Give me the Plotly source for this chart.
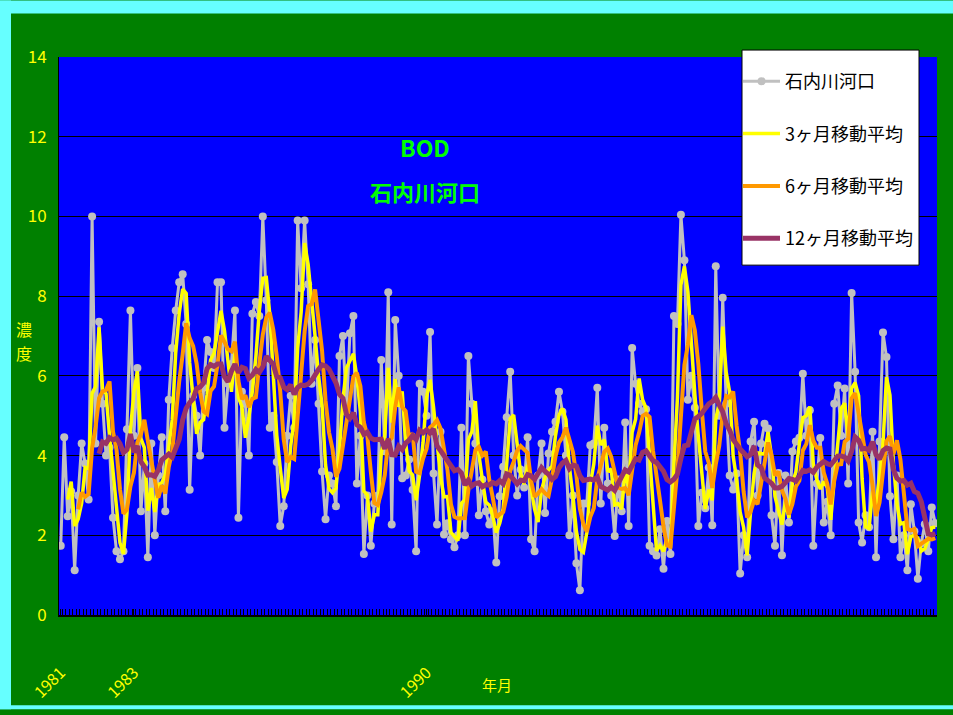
import pandas as pd
import plotly.graph_objects as go

# Monthly BOD (mg/L) at the Ishiuchi River mouth, April 1981 - March 2002
bod = [
    1.74, 4.46, 2.48, 3.1, 1.12, 3.0, 4.3, 3.8, 2.9, 10.0,
    4.3, 7.36, 5.3, 4.0, 4.2, 2.44, 1.6, 1.4, 1.6, 4.66,
    7.64, 4.5, 6.2, 2.6, 3.8, 1.45, 4.3, 2.0, 3.5, 4.46,
    2.6, 5.4, 6.7, 7.64, 8.35, 8.55, 7.3, 3.14, 5.5, 5.0,
    4.0, 5.7, 6.9, 6.6, 6.2, 8.35, 8.35, 4.7, 5.8, 6.3,
    7.64, 2.44, 5.6, 5.3, 4.0, 7.56, 7.85, 7.5, 10.0, 7.9,
    4.7, 5.0, 3.84, 2.23, 2.73, 4.5, 5.5, 4.7, 9.9, 8.2,
    9.9, 8.3, 5.8, 6.9, 5.3, 3.6, 2.4, 3.5, 3.3, 2.73,
    6.5, 7.0, 5.1, 7.07, 7.5, 3.3, 4.5, 1.53, 3.0, 1.74,
    2.8, 3.0, 6.4, 4.1, 8.1, 2.27, 7.4, 6.0, 3.43, 3.5,
    3.9, 3.14, 1.6, 5.8, 5.6, 5.0, 7.1, 3.55, 2.27, 4.6,
    2.02, 2.3, 1.9, 1.7, 2.0, 4.7, 2.0, 6.5, 5.3, 4.3,
    2.5, 3.4, 2.6, 2.27, 2.6, 1.32, 2.98, 3.72, 4.96, 6.1,
    4.0, 3.0, 3.65, 3.2, 4.46, 1.9, 1.6, 3.5, 4.3, 2.56,
    4.05, 4.6, 4.85, 5.6, 5.1, 4.0, 2.0, 3.0, 1.3, 0.62,
    2.8, 2.8, 4.26, 4.3, 5.7, 2.8, 4.7, 3.3, 3.0, 1.98,
    3.4, 2.6, 4.83, 2.23, 6.7, 5.8, 5.3, 5.1, 5.16, 1.74,
    1.6, 1.49, 2.15, 1.16, 2.36, 1.53, 7.5, 7.3, 10.04, 8.9,
    5.4, 6.0, 5.2, 2.23, 3.07, 2.68, 3.7, 2.25, 8.75, 5.0,
    7.96, 5.3, 3.5, 3.15, 3.55, 1.04, 2.0, 1.45, 4.35, 4.85,
    3.0, 4.3, 4.8, 4.68, 2.5, 1.74, 3.56, 1.5, 3.5, 2.32,
    4.1, 4.35, 4.45, 6.05, 4.5, 5.14, 1.74, 3.3, 4.44, 2.32,
    2.84, 2.0, 5.3, 5.76, 4.5, 5.68, 3.3, 8.08, 6.1, 2.32,
    1.82, 2.5, 2.2, 4.6, 1.45, 4.35, 7.09, 6.47, 2.98, 1.9,
    3.5, 1.45, 2.0, 1.12, 2.78, 2.1, 0.91, 1.8, 2.28, 1.6,
    2.7, 2.3,
]

# month labels for each sample
months = [str(p) for p in pd.period_range("1981-04", periods=len(bod), freq="M")]

# labelled months on the time axis
tick_months = ["1981-04", "1983-01", "1990-01"]
tick_text = ["1981", "1983", "1990"]

series_names = ["石内川河口", "3ヶ月移動平均", "6ヶ月移動平均", "12ヶ月移動平均"]
windows = [3, 6, 12]

s = pd.Series(bod)
moving = [s.rolling(w).mean() for w in windows]
x = list(range(len(months)))
tickvals = [months.index(m) for m in tick_months]

W, H = 953, 715
L, R, T, B = 59, 937, 57, 620


def px(xp):
    return (xp - L) / (R - L)


def py(yp):
    return (B - yp) / (B - T)


fig = go.Figure()
fig.add_trace(go.Scatter(
    x=x, y=bod, name=series_names[0], mode="lines+markers",
    line=dict(color="#C0C0C0", width=3),
    marker=dict(color="#C0C0C0", size=8, symbol="circle"),
    customdata=months, legendgroup="a",
))
ma_colors = ["#FFFF00", "#FF9900", "#993366"]
ma_widths = [3.5, 4, 5]
for name, ser, col, lw, grp in zip(series_names[1:], moving, ma_colors, ma_widths, "bcd"):
    fig.add_trace(go.Scatter(
        x=x, y=ser, name=name, mode="lines",
        line=dict(color=col, width=lw),
        customdata=months, legendgroup=grp,
    ))

yellow = "#FFFF00"
cjk = "Noto Sans CJK JP"
narrow = "Liberation Sans Narrow, Noto Sans CJK JP, sans-serif"

cyan = "#66FFFF"
shapes = [
    # light cyan frame on the top, left and bottom edges
    dict(type="rect", xref="paper", yref="paper", x0=px(0), x1=px(W), y0=py(13), y1=py(0),
         fillcolor=cyan, line_width=0, layer="above"),
    dict(type="rect", xref="paper", yref="paper", x0=px(0), x1=px(11), y0=py(H), y1=py(0),
         fillcolor=cyan, line_width=0, layer="above"),
    dict(type="rect", xref="paper", yref="paper", x0=px(0), x1=px(W), y0=py(H), y1=py(711),
         fillcolor=cyan, line_width=0, layer="above"),
    # legend box
    dict(type="rect", xref="paper", yref="paper", x0=px(742), x1=px(919), y0=py(267), y1=py(50),
         fillcolor="white", line=dict(color="black", width=1), layer="above"),
]


def label(text, xp, yp, size, color, weight="normal"):
    return dict(text=text, x=px(xp), y=py(yp), xref="paper", yref="paper",
                xanchor="center", yanchor="middle", showarrow=False,
                font=dict(family=cjk, size=size, color=color, weight=weight))


annotations = [
    label("BOD", 425, 148, 23, "#00FF00", "bold"),
    label("石内川河口", 425, 192, 22, "#00FF00", "bold"),
    label("年月", 497, 690, 15, yellow),
    label("濃", 24, 331, 16, yellow),
    label("度", 24, 356, 16, yellow),
]

fig.update_layout(
    width=W, height=H,
    margin=dict(l=L, r=W - R, t=T, b=H - B),
    paper_bgcolor="#008000",
    plot_bgcolor="#0000FF",
    shapes=shapes,
    annotations=annotations,
    showlegend=True,
    legend=dict(
        x=px(738), y=py(63), xanchor="left", yanchor="top",
        bgcolor="rgba(0,0,0,0)", borderwidth=0,
        font=dict(family=cjk, size=18, color="black"),
        tracegroupgap=26, itemwidth=37,
    ),
    xaxis=dict(
        range=[-0.5, len(bod) - 0.5],
        tickmode="array", tickvals=tickvals, ticktext=tick_text,
        tickangle=-45, tickfont=dict(family=narrow, size=16, color=yellow),
        ticks="inside", ticklen=6, tickcolor="black",
        minor=dict(tickmode="linear", tick0=0.5, dtick=1, ticks="inside",
                   ticklen=6, tickcolor="black", showgrid=False),
        showline=True, linecolor="black", linewidth=2,
        showgrid=False, zeroline=False,
        ticklabelstandoff=40,
    ),
    yaxis=dict(
        range=[0, 14], dtick=2, tick0=0,
        showgrid=True, gridcolor="black", gridwidth=1,
        showline=True, linecolor="black", linewidth=1,
        zeroline=False, ticks="",
        tickfont=dict(family=narrow, size=17, color=yellow),
        ticklabelstandoff=8,
    ),
)

fig.write_html("out.html")
